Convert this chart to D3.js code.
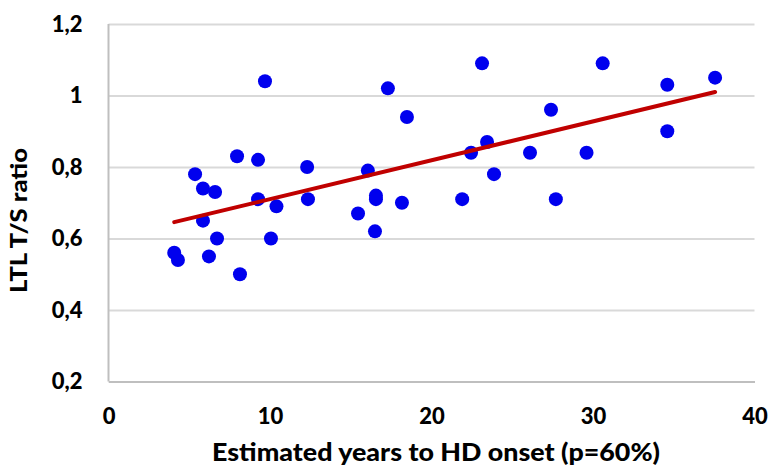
<!DOCTYPE html>
<html>
<head>
<meta charset="utf-8">
<script src="https://cdn.jsdelivr.net/npm/d3@7"></script>
<style>
  body { margin: 0; background: #fff; }
  text { font-family: Lato, "Liberation Sans", sans-serif; font-weight: 900; fill: #000; }
</style>
</head>
<body>
<div id="chart"></div>
<script>
const yearsToOnset = [4.07, 4.3, 5.36, 5.85, 5.85, 6.22, 6.6, 6.72, 7.96, 8.14,
  9.26, 9.26, 9.69, 10.06, 10.4, 12.3, 12.35, 15.45, 16.06, 16.56,
  16.56, 16.5, 17.3, 18.17, 18.48, 21.9, 22.45, 23.13, 23.44, 23.87,
  26.1, 27.4, 27.7, 29.6, 30.6, 34.6, 34.6, 37.56]
const ltlRatio = [0.56, 0.54, 0.78, 0.74, 0.65, 0.55, 0.73, 0.60, 0.83, 0.50,
  0.82, 0.71, 1.04, 0.60, 0.69, 0.80, 0.71, 0.67, 0.79, 0.72,
  0.71, 0.62, 1.02, 0.70, 0.94, 0.71, 0.84, 1.09, 0.87, 0.78,
  0.84, 0.96, 0.71, 0.84, 1.09, 1.03, 0.90, 1.05]
const xTicks = [0, 10, 20, 30, 40]
const yTicks = [0.2, 0.4, 0.6, 0.8, 1.0, 1.2]

const data = yearsToOnset.map((x, i) => ({ x, y: ltlRatio[i] }))

const dimensions = {
  width: 771,
  height: 468,
  margin: { top: 24, right: 16, bottom: 86.5, left: 108.5 }
}
dimensions.ctrWidth = dimensions.width - dimensions.margin.left - dimensions.margin.right
dimensions.ctrHeight = dimensions.height - dimensions.margin.top - dimensions.margin.bottom

const svg = d3.select("#chart").append("svg")
  .attr("width", dimensions.width)
  .attr("height", dimensions.height)

const ctr = svg.append("g")
  .attr("transform", `translate(${dimensions.margin.left}, ${dimensions.margin.top})`)

const xScale = d3.scaleLinear().domain([0, 40]).range([0, 646])
const yScale = d3.scaleLinear().domain([0.2, 1.2]).range([dimensions.ctrHeight, 0])

// gridlines + y labels
const yAxis = d3.axisLeft(yScale)
  .tickValues(yTicks)
  .tickSize(-646)
  .tickPadding(26)
  .tickFormat(d => d3.format(".1~f")(d).replace(".", ","))

const yg = ctr.append("g").call(yAxis)
yg.select(".domain").remove()
yg.selectAll(".tick line").attr("stroke", "#d9d9d9").attr("stroke-width", 2)
yg.selectAll(".tick text").attr("font-size", 22).attr("fill", "#000")
  .attr("font-family", "Lato, sans-serif").attr("font-weight", 900)

const xAxis = d3.axisBottom(xScale)
  .tickValues(xTicks)
  .tickSize(0)
  .tickPadding(27)

const xg = ctr.append("g")
  .attr("transform", `translate(0, ${dimensions.ctrHeight})`)
  .call(xAxis)
xg.select(".domain").attr("stroke", "#bfbfbf").attr("stroke-width", 2)
xg.selectAll(".tick text").attr("font-size", 22).attr("fill", "#000")
  .attr("font-family", "Lato, sans-serif").attr("font-weight", 900)

// left axis line
ctr.append("line")
  .attr("x1", 0).attr("x2", 0)
  .attr("y1", 0).attr("y2", dimensions.ctrHeight)
  .attr("stroke", "#bfbfbf").attr("stroke-width", 2)

// linear trendline (least squares)
const mx = d3.mean(data, d => d.x)
const my = d3.mean(data, d => d.y)
const slope = d3.sum(data, d => (d.x - mx) * (d.y - my)) / d3.sum(data, d => (d.x - mx) ** 2)
const intercept = my - slope * mx
const [x0, x1] = d3.extent(data, d => d.x)

ctr.selectAll("circle")
  .data(data)
  .join("circle")
  .attr("cx", d => xScale(d.x))
  .attr("cy", d => yScale(d.y))
  .attr("r", 7)
  .attr("fill", "#0000ee")

ctr.append("line")
  .attr("x1", xScale(x0)).attr("y1", yScale(intercept + slope * x0))
  .attr("x2", xScale(x1)).attr("y2", yScale(intercept + slope * x1))
  .attr("stroke", "#c00000")
  .attr("stroke-width", 4)
  .attr("stroke-linecap", "round")

svg.append("text")
  .attr("x", 436)
  .attr("y", 461)
  .attr("text-anchor", "middle")
  .attr("font-size", 25)
  .attr("textLength", 448)
  .attr("lengthAdjust", "spacingAndGlyphs")
  .text("Estimated years to HD onset (p=60%)")

svg.append("text")
  .attr("transform", "translate(27, 220.5) rotate(-90)")
  .attr("text-anchor", "middle")
  .attr("font-size", 22.5)
  .attr("textLength", 145)
  .attr("lengthAdjust", "spacingAndGlyphs")
  .text("LTL T/S ratio")
</script>
</body>
</html>
